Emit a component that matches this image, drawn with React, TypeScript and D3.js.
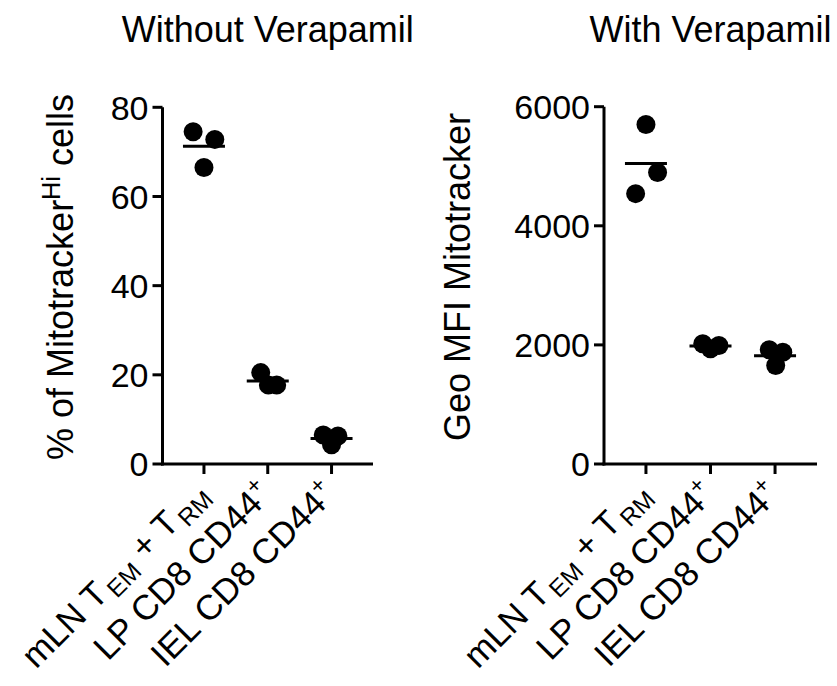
import React, { useEffect } from 'react';
import * as d3 from 'd3';

// --- data ---
const categories = ['mLN', 'LP', 'IEL'];

// % of Mitotracker-Hi cells, without verapamil
const withoutValues = [
  [74.5, 72.8, 66.5],
  [20.5, 17.7, 17.7],
  [6.5, 6.3, 4.3],
];
const withoutJitter = [
  [-0.17, 0.17, 0],
  [-0.11, 0.01, 0.14],
  [-0.13, 0.1, 0],
];
const withoutTicks = [0, 20, 40, 60, 80];

// Geo MFI Mitotracker, with verapamil
const withValues = [
  [5700, 4895, 4540],
  [2018, 1934, 1990],
  [1918, 1877, 1653],
];
const withJitter = [
  [0, 0.18, -0.16],
  [-0.12, 0, 0.13],
  [-0.09, 0.12, 0.01],
];
const withTicks = [0, 2000, 4000, 6000];

const FONT = '"Liberation Sans", Arial, Helvetica, sans-serif';
const W = 837;
const H = 686;

// category label with sub/superscripts
const CatLabel = ({ cat }: { cat: string }) => {
  if (cat === 'mLN') {
    return (
      <>
        <tspan>mLN T</tspan>
        <tspan fontSize="0.7em" dx="3" dy="7">EM</tspan>
        <tspan dy="-7"> + T</tspan>
        <tspan fontSize="0.7em" dx="3" dy="7">RM</tspan>
      </>
    );
  }
  return (
    <>
      <tspan>{cat} CD8 CD44</tspan>
      <tspan fontSize="0.65em" dy="-14">+</tspan>
    </>
  );
};

type PanelProps = {
  title: string;
  yTitle: React.ReactNode;
  values: number[][];
  jitter: number[][];
  ticks: number[];
  yMax: number;
  axisX: number;
  axisEnd: number;
  yTop: number;
  yTitleX: number;
};

const Panel = ({ title, yTitle, values, jitter, ticks, yMax, axisX, axisEnd, yTop, yTitleX }: PanelProps) => {
  const axisY = 464;
  const y = d3.scaleLinear().domain([0, yMax]).range([axisY, yTop]);
  const x = d3.scalePoint<string>().domain(categories).range([axisX, axisEnd]).padding(0.65);
  const step = x.step();

  return (
    <g fontFamily={FONT} fill="#000">
      <text x={(axisX + axisEnd) / 2} y={42} textAnchor="middle" fontSize={36}>{title}</text>

      <text transform={`translate(${yTitleX},${277}) rotate(-90)`} textAnchor="middle" fontSize={36}>
        {yTitle}
      </text>

      {/* y axis */}
      <line x1={axisX} x2={axisX} y1={y(yMax)} y2={axisY + 1.5} stroke="#000" strokeWidth={3} />
      {ticks.map(t => (
        <g key={t}>
          <line x1={axisX - 10} x2={axisX} y1={y(t)} y2={y(t)} stroke="#000" strokeWidth={3} />
          <text x={axisX - 14} y={y(t)} dy="0.36em" textAnchor="end" fontSize={34}>{t}</text>
        </g>
      ))}

      {/* x axis */}
      <line x1={axisX - 1.5} x2={axisEnd} y1={axisY} y2={axisY} stroke="#000" strokeWidth={3} />
      {categories.map(c => (
        <g key={c}>
          <line x1={x(c)} x2={x(c)} y1={axisY} y2={axisY + 10} stroke="#000" strokeWidth={3} />
          <text
            transform={`translate(${(x(c) ?? 0) + 6},${axisY + 32}) rotate(-45)`}
            textAnchor="end"
            fontSize={35}
          >
            <CatLabel cat={c} />
          </text>
        </g>
      ))}

      {/* points and means */}
      {categories.map((c, i) => {
        const cx = x(c) ?? 0;
        const m = d3.mean(values[i]) ?? 0;
        return (
          <g key={c}>
            {values[i].map((v, j) => (
              <circle key={j} cx={cx + jitter[i][j] * step} cy={y(v)} r={9.5} fill="#000" />
            ))}
            <line x1={cx - 21} x2={cx + 21} y1={y(m)} y2={y(m)} stroke="#000" strokeWidth={3} />
          </g>
        );
      })}
    </g>
  );
};

export default function App() {
  useEffect(() => {
    document.body.style.margin = '0';
  }, []);

  return (
    <svg width={W} height={H} style={{ display: 'block', background: '#fff' }}>
      <Panel
        title="Without Verapamil"
        yTitle={
          <>
            <tspan>% of Mitotracker</tspan>
            <tspan fontSize="0.7em" dy="-13">Hi</tspan>
            <tspan dy="13"> cells</tspan>
          </>
        }
        values={withoutValues}
        jitter={withoutJitter}
        ticks={withoutTicks}
        yMax={80}
        axisX={162.5}
        axisEnd={373}
        yTop={107.3}
        yTitleX={73}
      />
      <Panel
        title="With Verapamil"
        yTitle="Geo MFI Mitotracker"
        values={withValues}
        jitter={withJitter}
        ticks={withTicks}
        yMax={6000}
        axisX={604}
        axisEnd={817}
        yTop={106.7}
        yTitleX={470}
      />
    </svg>
  );
}
